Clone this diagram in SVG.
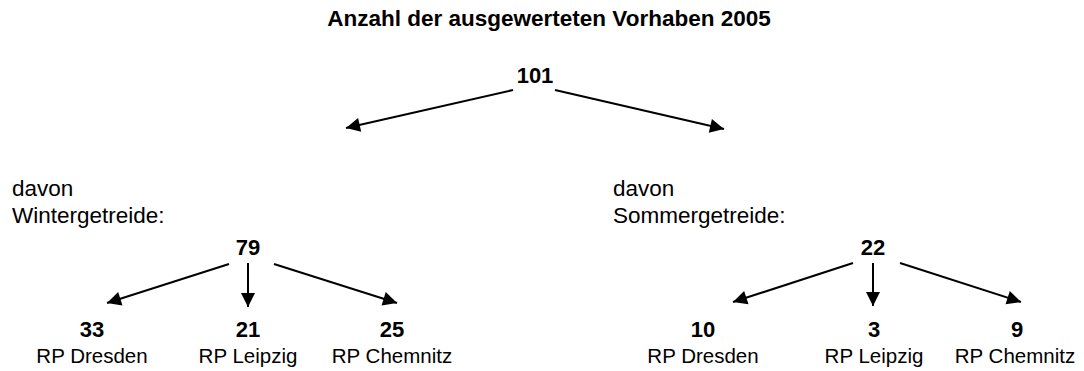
<svg xmlns="http://www.w3.org/2000/svg" width="1084" height="371" viewBox="0 0 1084 371">
<style>
text{font-family:"Liberation Sans",Arial,sans-serif;fill:#000}
.t{font-size:22.5px;font-weight:bold;text-anchor:middle}
.n{font-size:22px;font-weight:bold;text-anchor:middle}
.l{font-size:22.5px}
.r{font-size:20.5px;text-anchor:middle}
.c{stroke:#000;stroke-width:2;fill:none;marker-end:url(#ah)}
</style>
<defs>
<marker id="ah" markerUnits="userSpaceOnUse" markerWidth="16" markerHeight="16" viewBox="0 0 16 16" refX="14.5" refY="8" orient="auto">
<path d="M0.5,1 L14.5,8 L0.5,15 Z" fill="#000"/>
</marker>
</defs>
<rect width="1084" height="371" fill="#fff"/>
<g id="title"><text class="t" x="549" y="26">Anzahl der ausgewerteten Vorhaben 2005</text></g>
<g id="total"><text class="n" x="535" y="83">101</text></g>
<g id="winter">
<text class="l" x="12" y="196">davon</text>
<text class="l" x="12" y="223">Wintergetreide:</text>
<text class="n" x="248" y="255">79</text>
</g>
<g id="sommer">
<text class="l" x="613" y="196">davon</text>
<text class="l" x="613" y="223">Sommergetreide:</text>
<text class="n" x="873" y="255">22</text>
</g>
<g id="w-dresden"><text class="n" x="92" y="337">33</text><text class="r" x="92" y="363">RP Dresden</text></g>
<g id="w-leipzig"><text class="n" x="248" y="337">21</text><text class="r" x="248" y="363">RP Leipzig</text></g>
<g id="w-chemnitz"><text class="n" x="392" y="337">25</text><text class="r" x="392" y="363">RP Chemnitz</text></g>
<g id="s-dresden"><text class="n" x="703" y="337">10</text><text class="r" x="703" y="363">RP Dresden</text></g>
<g id="s-leipzig"><text class="n" x="874" y="337">3</text><text class="r" x="874" y="363">RP Leipzig</text></g>
<g id="s-chemnitz"><text class="n" x="1017" y="337">9</text><text class="r" x="1015" y="363">RP Chemnitz</text></g>
<g id="connectors">
<line class="c" x1="513" y1="90" x2="346" y2="128"/>
<line class="c" x1="555" y1="90" x2="724" y2="129"/>
<line class="c" x1="229" y1="264" x2="107" y2="303"/>
<line class="c" x1="248" y1="263" x2="248" y2="307"/>
<line class="c" x1="274" y1="264" x2="397" y2="303"/>
<line class="c" x1="853" y1="263" x2="733" y2="302"/>
<line class="c" x1="873" y1="263" x2="873" y2="306"/>
<line class="c" x1="900" y1="263" x2="1021" y2="302"/>
</g>
</svg>
